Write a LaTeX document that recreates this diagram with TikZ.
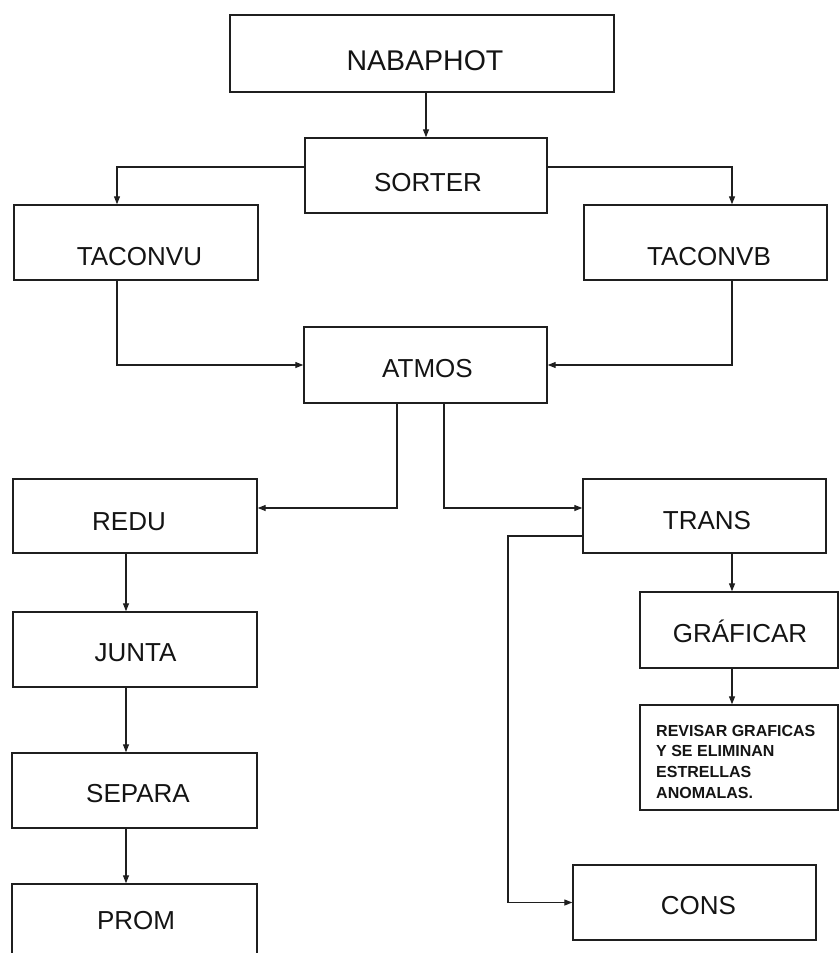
\documentclass[tikz,border=0pt]{standalone}
\usepackage{fontspec}
\setmainfont{Liberation Sans}
\usetikzlibrary{arrows.meta}
\begin{document}
\begin{tikzpicture}[x=1pt,y=-1pt,
  box/.style={draw=black!88, line width=1.4pt, rectangle, inner sep=0pt},
  lbl/.style={font=\fontsize{26}{30}\selectfont, text height=18.6pt, text depth=0pt, inner sep=0pt, text=black!92},
  arr/.style={draw=black!88, line width=1.2pt, -{Triangle[length=8pt,width=6pt]}}
]
\clip (0,0) rectangle (840,953);
\fill[white] (0,0) rectangle (840,953);

% boxes
\node[box, minimum width=384pt, minimum height=77pt] (nab)   at (422,53.5) {};
\node[box, minimum width=242pt, minimum height=75pt] (sor)   at (426,175.5) {};
\node[box, minimum width=244pt, minimum height=75pt] (tu)    at (136,242.5) {};
\node[box, minimum width=243pt, minimum height=75pt] (tb)    at (705.5,242.5) {};
\node[box, minimum width=243pt, minimum height=76pt] (atm)   at (425.5,365) {};
\node[box, minimum width=244pt, minimum height=74pt] (redu)  at (135,516) {};
\node[box, minimum width=243pt, minimum height=74pt] (trans) at (704.5,516) {};
\node[box, minimum width=244pt, minimum height=75pt] (junta) at (135,649.5) {};
\node[box, minimum width=198pt, minimum height=76pt] (graf)  at (739,630) {};
\node[box, minimum width=198pt, minimum height=105pt] (rev)  at (739,757.5) {};
\node[box, minimum width=245pt, minimum height=75pt] (sep)   at (134.5,790.5) {};
\node[box, minimum width=245pt, minimum height=76pt] (prom)  at (134.5,922) {};
\node[box, minimum width=243pt, minimum height=75pt] (cons)  at (694.5,902.5) {};

% labels
\node[lbl, font=\fontsize{28.5}{32}\selectfont, text height=20.4pt] (nabt) at (425,60) {NABAPHOT};
\node[lbl] (sort)   at (428,182) {SORTER};
\node[lbl] (tut)    at (139.5,256.5) {TACONVU};
\node[lbl] (tbt)    at (709,256.5) {TACONVB};
\node[lbl] (atmt)   at (427.5,368) {ATMOS};
\node[lbl] (redut)  at (129,521) {REDU};
\node[lbl] (transt) at (707,520.5) {TRANS};
\node[lbl] (juntat) at (135.5,652) {JUNTA};
\node[lbl] (graft)  at (740,633.5) {GRÁFICAR};
\node[lbl] (sept)   at (138,793.5) {SEPARA};
\node[lbl] (promt)  at (136,920) {PROM};
\node[lbl] (const)  at (698.5,905) {CONS};
\node[anchor=north west, inner sep=0pt, align=left,
      font=\bfseries\fontsize{16}{20.6}\selectfont, text=black!92] (revt) at (656,725)
  {REVISAR GRAFICAS\\Y SE ELIMINAN\\ESTRELLAS\\ANOMALAS.};

% connectors
\draw[arr] (sor.north |- nab.south) -- (sor.north);
\draw[arr] ([yshift=8.5pt]sor.west) -| ([xshift=-19pt]tu.north);
\draw[arr] ([yshift=8.5pt]sor.east) -| ([xshift=26.5pt]tb.north);
\draw[arr] ([xshift=-19pt]tu.south) |- (atm.west);
\draw[arr] ([xshift=26.5pt]tb.south) |- (atm.east);
\draw[arr] ([xshift=-28.5pt]atm.south) |- ([yshift=8pt]redu.east);
\draw[arr] ([xshift=18.5pt]atm.south) |- ([yshift=8pt]trans.west);
\draw[arr] ([xshift=27.5pt]trans.south) -- ([xshift=27.5pt]trans.south |- graf.north);
\draw[arr] ([xshift=-7pt]graf.south) -- ([xshift=-7pt]rev.north);
\coordinate (bend) at (508,536);
\draw[arr] ([yshift=-20pt]trans.west) -- (bend) |- (cons.west);
\draw[arr] ([xshift=-9pt]redu.south) -- ([xshift=-9pt]redu.south |- junta.north);
\draw[arr] ([xshift=-9pt]junta.south) -- ([xshift=-9pt]junta.south |- sep.north);
\draw[arr] ([xshift=-8.5pt]sep.south) -- ([xshift=-8.5pt]prom.north);
\end{tikzpicture}
\end{document}
